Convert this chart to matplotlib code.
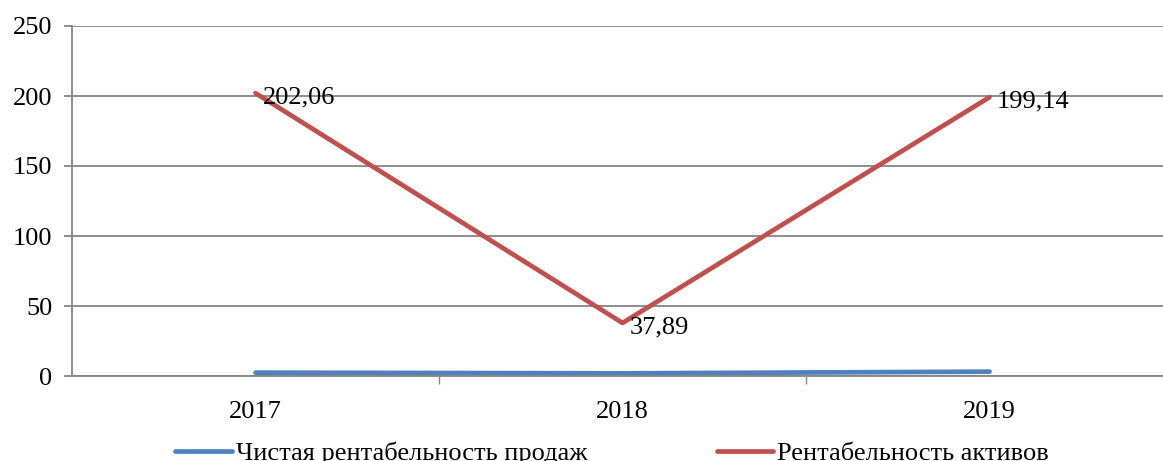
import matplotlib
matplotlib.use("Agg")
from matplotlib import pyplot as plt

years = ['2017', '2018', '2019']
net_sales_margin = [2.4, 1.9, 3.1]
return_on_assets = [202.06, 37.89, 199.14]
roa_labels = ['202,06', '37,89', '199,14']

plt.rcParams['font.family'] = ['Liberation Serif', 'DejaVu Serif']

fig = plt.figure(figsize=(11.63, 4.61), dpi=100)
W, H = 1163.0, 461.0
# plot area: x 72..1173 px, y 26..376 px
ax = fig.add_axes([72 / W, (H - 376) / H, (1173 - 72) / W, (376 - 26) / H])

grid_c = '#868686'
x = list(range(len(years)))
ln0, = ax.plot(x, net_sales_margin, color='#4F81BD', lw=3.4, solid_capstyle='round')
ln1, = ax.plot(x, return_on_assets, color='#C0504D', lw=3.4, solid_capstyle='round')

for xi, yi, lab in zip(x, return_on_assets, roa_labels):
    ax.annotate(lab, (xi, yi), xytext=(5, -3), textcoords='offset points',
                ha='left', va='center', fontsize=19)

ax.set_xlim(-0.5, 2.5)
ax.set_ylim(0, 250)
ax.set_yticks(range(0, 251, 50))
ax.yaxis.grid(True, color=grid_c, lw=1.3)
ax.set_axisbelow(True)

ax.set_xticks(x)
ax.set_xticklabels(years)
ax.set_xticks([0.5, 1.5], minor=True)
ax.tick_params(axis='x', which='major', length=0, pad=18, labelsize=19)
ax.tick_params(axis='x', which='minor', length=6, width=1, color=grid_c)
ax.tick_params(axis='y', length=6, width=1.3, color=grid_c, labelsize=19, pad=8)

for s in ['top', 'right']:
    ax.spines[s].set_visible(False)
ax.spines['left'].set_color(grid_c)
ax.spines['left'].set_linewidth(1.3)
ax.spines['bottom'].set_color(grid_c)
ax.spines['bottom'].set_linewidth(1.3)

fig.legend(handles=[ln0, ln1], labels=['Чистая рентабельность продаж', 'Рентабельность активов'],
           loc='center', bbox_to_anchor=(612 / W, (H - 453) / H), ncol=2, frameon=False,
           fontsize=19, handlelength=2.15, handletextpad=0.15, columnspacing=4.9)

fig.savefig('out.png', dpi=100)
